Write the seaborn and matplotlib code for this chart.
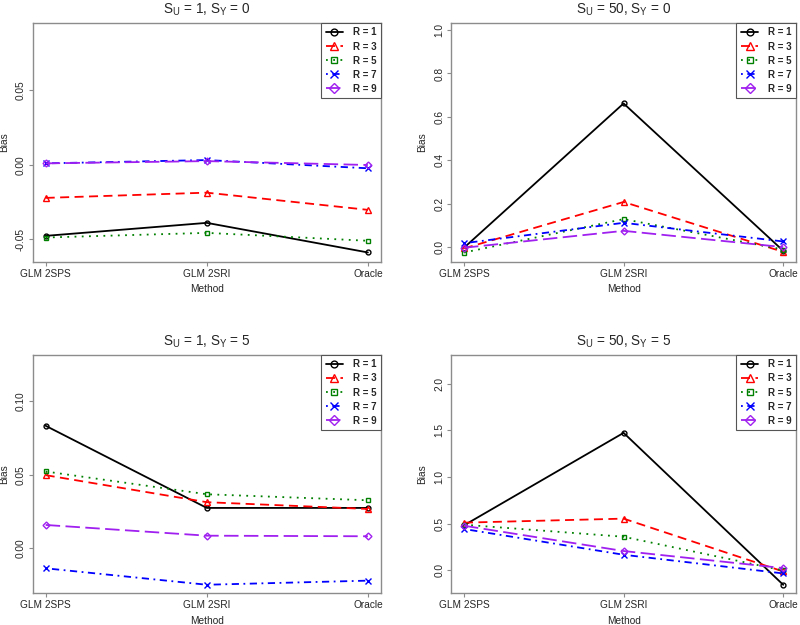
import seaborn as sns
import matplotlib.pyplot as plt
import pandas as pd

sns.set_style("white")
plt.rcParams['font.family'] = ['Liberation Sans', 'DejaVu Sans']
plt.rcParams['font.size'] = 7.3

methods = ['GLM 2SPS', 'GLM 2SRI', 'Oracle']
r_labels = ['R = 1', 'R = 3', 'R = 5', 'R = 7', 'R = 9']

# bias values, one list per R (order: GLM 2SPS, GLM 2SRI, Oracle)
su1_sy0 = [[-0.0476, -0.0389, -0.0587],
           [-0.0222, -0.0187, -0.0302],
           [-0.0487, -0.0456, -0.0509],
           [0.0009, 0.0031, -0.0024],
           [0.0009, 0.0024, -0.0002]]
su50_sy0 = [[-0.003, 0.662, -0.017],
            [-0.006, 0.208, -0.022],
            [-0.025, 0.129, -0.011],
            [0.018, 0.112, 0.026],
            [-0.003, 0.075, 0.000]]
su1_sy5 = [[0.0834, 0.0275, 0.0275],
           [0.0498, 0.0314, 0.0268],
           [0.0523, 0.0368, 0.0327],
           [-0.0136, -0.0248, -0.0220],
           [0.0159, 0.0086, 0.0082]]
su50_sy5 = [[0.483, 1.474, -0.154],
            [0.512, 0.555, -0.011],
            [0.490, 0.361, 0.000],
            [0.444, 0.168, -0.032],
            [0.479, 0.208, 0.025]]

titles = [r'$\mathregular{S_U}$ = 1, $\mathregular{S_Y}$ = 0',
          r'$\mathregular{S_U}$ = 50, $\mathregular{S_Y}$ = 0',
          r'$\mathregular{S_U}$ = 1, $\mathregular{S_Y}$ = 5',
          r'$\mathregular{S_U}$ = 50, $\mathregular{S_Y}$ = 5']
panels = [su1_sy0, su50_sy0, su1_sy5, su50_sy5]
ylims = [(-0.065, 0.0947), (-0.068, 1.032), (-0.0305, 0.1316), (-0.243, 2.308)]
yticks = [[-0.05, 0.00, 0.05], [0.0, 0.2, 0.4, 0.6, 0.8, 1.0],
          [0.00, 0.05, 0.10], [0.0, 0.5, 1.0, 1.5, 2.0]]
yfmt = ['{:.2f}', '{:.1f}', '{:.2f}', '{:.1f}']

colors = ['black', 'red', 'green', 'blue', '#A020F0']
markers = ['o', '^', 's', 'x', 'D']
msizes = [3.5, 4, 3.5, 4, 3.5]
dashes = [None, (5, 3), (1, 3), (1, 2.5, 4, 2.5), (8, 3)]

boxes = [[0.041, 0.581, 0.435, 0.382], [0.564, 0.581, 0.431, 0.382],
         [0.041, 0.051, 0.435, 0.381], [0.564, 0.051, 0.431, 0.381]]

fig = plt.figure(figsize=(8, 6.25), dpi=100)

for p, data in enumerate(panels):
    ax = fig.add_axes(boxes[p])
    rows = []
    for i, lab in enumerate(r_labels):
        for j, m in enumerate(methods):
            rows.append({'x': j + 1, 'Bias': data[i][j], 'R': lab})
    df = pd.DataFrame(rows)
    for i, lab in enumerate(r_labels):
        sub = df[df['R'] == lab]
        sns.lineplot(data=sub, x='x', y='Bias', ax=ax, color=colors[i],
                     marker=markers[i], markersize=msizes[i],
                     markerfacecolor='none', markeredgecolor=colors[i],
                     markeredgewidth=1.0, linewidth=1.3, label=lab)
        if dashes[i] is not None:
            ax.lines[-1].set_dashes(dashes[i])
    ax.set_xlim(0.92, 3.08)
    ax.set_ylim(*ylims[p])
    ax.set_xticks([1, 2, 3])
    ax.set_xticklabels(methods)
    ax.set_yticks(yticks[p])
    ax.set_yticklabels([yfmt[p].format(v) for v in yticks[p]], rotation=90, va='center')
    ax.set_xlabel('Method', labelpad=4)
    ax.set_ylabel('Bias')
    w_px = boxes[p][2] * 800
    ax.yaxis.set_label_coords(-24 / w_px, 0.5)
    ax.set_title(titles[p], fontsize=9.8, pad=7)
    for s in ax.spines.values():
        s.set_color('#8c8c8c')
        s.set_linewidth(1.0)
    ax.tick_params(axis='both', direction='out', length=3, width=0.8,
                   color='#8c8c8c', bottom=True, left=True, pad=2)
    leg = ax.legend(loc='upper right', borderaxespad=0, fancybox=False,
                    edgecolor='#555555', framealpha=1, prop={'weight': 'bold', 'size': 7},
                    handlelength=1.8, markerscale=1.4, labelspacing=0.42,
                    borderpad=0.45, handletextpad=1.0)
    leg.get_frame().set_linewidth(0.8)

fig.savefig('out.png', dpi=100)
